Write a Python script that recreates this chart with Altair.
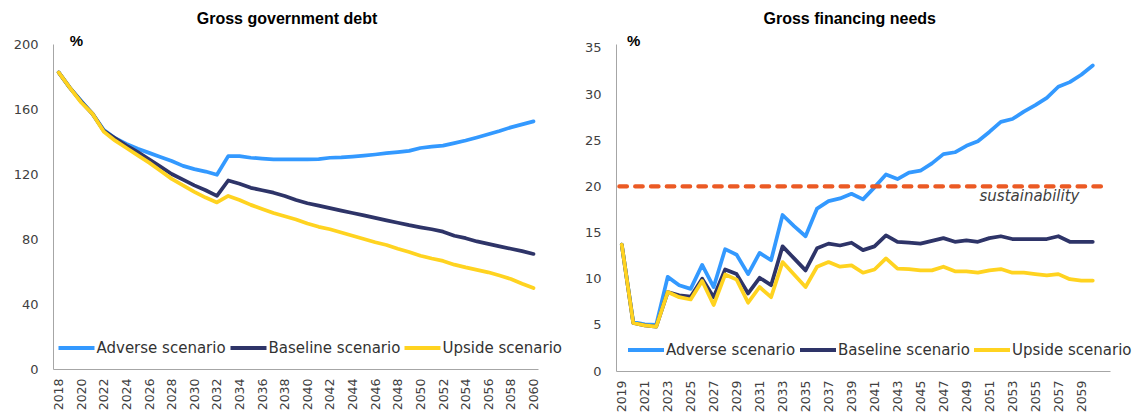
import altair as alt
import pandas as pd

# ---------------- data ----------------
scenarios = ["Adverse scenario", "Baseline scenario", "Upside scenario"]
colors = ["#3399FF", "#2E3468", "#FFD320"]

debt_years = list(range(2018, 2061))
debt_adverse = [182.5, 173, 165, 157, 147, 142, 138.5, 135.5, 133, 130.5,
                128, 125, 123, 121.5, 119.5, 131, 131, 130, 129.5, 129,
                129, 129, 129, 129.2, 130, 130.2, 130.7, 131.3, 132, 132.8,
                133.5, 134.2, 136, 136.8, 137.5, 139, 140.6, 142.5, 144.5, 146.5,
                148.7, 150.5, 152.4]
debt_baseline = [182.5, 173, 164.5, 157, 146.5, 142, 137.5, 133.5, 129, 124.5,
                 120, 116.5, 113, 110, 106.5, 116, 114, 111.5, 110, 108.5,
                 106.5, 104, 102, 100.5, 99, 97.5, 96, 94.5, 93, 91.5,
                 90, 88.5, 87.2, 86, 84.5, 82, 80.5, 78.5, 77, 75.5,
                 74, 72.5, 70.8]
debt_upside = [182.5, 173, 164, 157, 146, 140.5, 136, 131.5, 127, 122,
               117, 113, 109, 105.5, 102.5, 106.5, 104, 101, 98.5, 96,
               94, 92, 89.5, 87.5, 86, 84, 82, 80, 78, 76.3,
               74, 72, 69.7, 68, 66.5, 64.2, 62.5, 61, 59.5, 57.5,
               55.4, 52.5, 49.8]

gfn_years = list(range(2019, 2061))
gfn_adverse = [13.7, 5.3, 5.05, 5.0, 10.2, 9.3, 8.9, 11.5, 9.1, 13.2,
               12.6, 10.5, 12.8, 12.0, 16.9, 15.7, 14.6, 17.6, 18.4, 18.7,
               19.2, 18.6, 19.9, 21.3, 20.8, 21.5, 21.7, 22.5, 23.5, 23.7,
               24.4, 24.9, 25.9, 27.0, 27.3, 28.1, 28.8, 29.6, 30.8, 31.3,
               32.1, 33.1]
gfn_baseline = [13.7, 5.2, 4.95, 4.8, 8.55, 8.2, 8.05, 10.0, 8.0, 11.0,
                10.5, 8.4, 10.1, 9.3, 13.5, 12.2, 10.9, 13.3, 13.8, 13.6,
                13.9, 13.1, 13.5, 14.7, 14.0, 13.9, 13.8, 14.1, 14.4, 14.0,
                14.15, 14.0, 14.4, 14.6, 14.3, 14.3, 14.3, 14.3, 14.6, 14.0,
                14.0, 14.0]
gfn_upside = [13.7, 5.2, 4.95, 4.8, 8.55, 8.0, 7.75, 9.75, 7.15, 10.45,
              9.9, 7.4, 9.1, 8.0, 11.8, 10.45, 9.1, 11.3, 11.8, 11.3,
              11.45, 10.65, 11.0, 12.2, 11.1, 11.05, 10.9, 10.9, 11.3, 10.8,
              10.8, 10.65, 10.9, 11.05, 10.65, 10.65, 10.5, 10.35, 10.5, 9.95,
              9.8, 9.8]

sustainability_level = [20]

debt_y_ticks = [0, 40, 80, 120, 160, 200]
debt_x_ticks = list(range(2018, 2061, 2))
gfn_y_ticks = [0, 5, 10, 15, 20, 25, 30, 35]
gfn_x_ticks = list(range(2019, 2060, 2))


def long_frame(years, a, b, u):
    rows = []
    for name, vals in zip(scenarios, [a, b, u]):
        for yr, v in zip(years, vals):
            rows.append({"year": yr, "value": v, "scenario": name})
    return pd.DataFrame(rows)


debt_df = long_frame(debt_years, debt_adverse, debt_baseline, debt_upside)
gfn_df = long_frame(gfn_years, gfn_adverse, gfn_baseline, gfn_upside)

AXIS_FONT = "DejaVu Sans"
LABEL_COLOR = "#404040"


def text_layer(txt, x, y, **kw):
    return alt.Chart(pd.DataFrame({"t": [txt]})).mark_text(**kw).encode(
        text="t:N", x=alt.value(x), y=alt.value(y))


def make_panel(df, title, title_x, x_domain, x_ticks, y_domain, y_ticks,
               legend_x, legend_y, pct_x):
    lines = alt.Chart(df).mark_line(strokeWidth=3.75, strokeJoin="round",
                                    strokeCap="round").encode(
        x=alt.X("year:Q",
                scale=alt.Scale(domain=x_domain, nice=False, zero=False),
                axis=alt.Axis(values=x_ticks, format="d", labelAngle=270,
                              labelPadding=9, labelFontSize=12.5, title=None)),
        y=alt.Y("value:Q",
                scale=alt.Scale(domain=y_domain, nice=False, zero=True),
                axis=alt.Axis(values=y_ticks, labelPadding=15, title=None)),
        color=alt.Color("scenario:N",
                        scale=alt.Scale(domain=scenarios, range=colors),
                        legend=alt.Legend(title=None, orient="none",
                                          direction="horizontal",
                                          legendX=legend_x, legendY=legend_y,
                                          symbolType="stroke",
                                          symbolSize=1296,
                                          symbolStrokeWidth=4,
                                          labelFont=AXIS_FONT,
                                          labelFontSize=15,
                                          labelColor="#333333",
                                          labelOffset=0,
                                          columnPadding=-4,
                                          padding=0)),
    )
    pct = text_layer("%", pct_x, 1.7, font="Liberation Sans", fontSize=15,
                     fontWeight="bold", align="left", baseline="alphabetic",
                     color="#000000")
    ttl = text_layer(title, title_x, -20, font="Liberation Sans", fontSize=16,
                     fontWeight="bold", align="center", baseline="alphabetic",
                     color="#000000")
    return lines, pct, ttl


l_lines, l_pct, l_ttl = make_panel(
    debt_df, "Gross government debt", 234, [2017.5, 2060.4],
    debt_x_ticks, [0, 200], debt_y_ticks, 3.5, 284, 16.7)
left = alt.layer(l_lines, l_pct, l_ttl).properties(width=485, height=325)

r_lines, r_pct, r_ttl = make_panel(
    gfn_df, "Gross financing needs", 233.7, [2018.5, 2061.5],
    gfn_x_ticks, [0, 35.43], gfn_y_ticks, 10, 286, 11)

rule = alt.Chart(pd.DataFrame({"level": sustainability_level})).mark_rule(
    color="#EB5A24", strokeWidth=4.3, strokeDash=[7.5, 8.3], strokeCap="round"
).encode(y=alt.Y("level:Q"), x=alt.value(3.4), x2=alt.value(486.7))

sust = text_layer("sustainability", 463.4, 156.7, font=AXIS_FONT, fontSize=15,
                  fontStyle="italic", align="right", baseline="alphabetic",
                  color="#404040")

right = alt.layer(r_lines, rule, sust, r_pct, r_ttl).properties(width=494, height=327)

chart = alt.hconcat(left, right, spacing=78, bounds="flush").resolve_scale(
    color="independent"
).resolve_legend(color="independent").properties(
    padding={"left": 5, "top": 3, "right": 0, "bottom": 0}
).configure_view(stroke=None).configure_axis(
    domainColor="#A6A6A6", domainWidth=1, ticks=False, tickSize=0, grid=False,
    labelFont=AXIS_FONT, labelFontSize=13, labelColor=LABEL_COLOR,
)

chart.save("out.html", embed_options={"renderer": "svg", "actions": False})
